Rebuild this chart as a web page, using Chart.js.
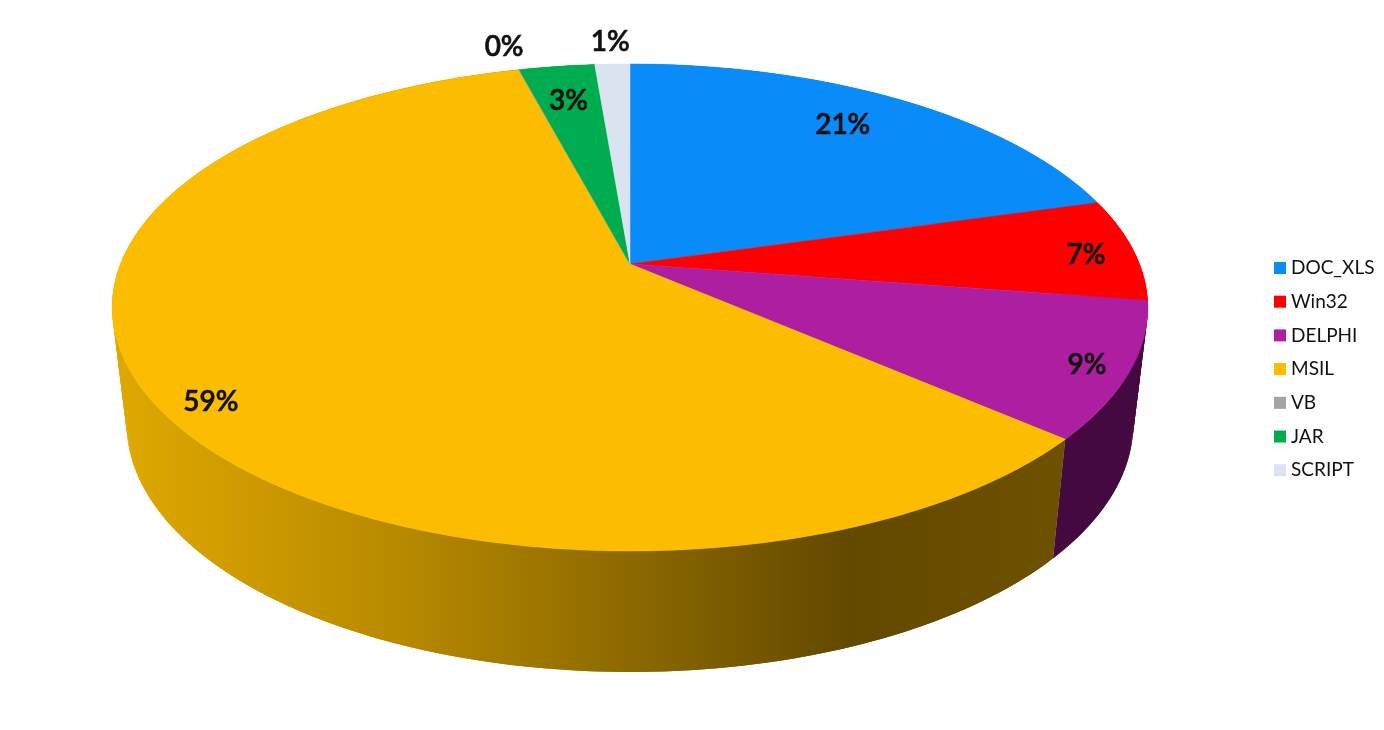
<!doctype html>
<html>

<head>
	<title>3D Pie Chart</title>
	<script src="https://cdn.jsdelivr.net/npm/chart.js@4/dist/chart.umd.js"></script>
	<style>
	html, body { margin: 0; background: #fff; }
	canvas { display: block; }
	</style>
</head>

<body>
	<canvas id="canvas" width="1384" height="730"></canvas>
	<script>
		const categories = ['DOC_XLS', 'Win32', 'DELPHI', 'MSIL', 'VB', 'JAR', 'SCRIPT'];
		const shares = [20.6, 6.8, 9.0, 59.47, 0.03, 2.8, 1.3];
		const colors = ['#0a8bfa', '#ff0000', '#ae1ea0', '#fcbc00', '#a5a5a5', '#00ac50', '#dae3f0'];
		const labelRadius = [0.82, 0.905, 0.92, 0.91, 1.16, 0.82, 1.15];
		const labelTurn = [-2.3, 0.3, 0, -3, 0, 0, 0];

		// perspective of the disc
		const apexX = 630, apexY = 264, spreadX = 509.5, spreadY = 235.7, tilt = -0.1786;

		function project(angle, r) {
			const u = r * Math.cos(angle), v = r * Math.sin(angle);
			const w = 1 + tilt * v;
			return { x: apexX + spreadX * u / w, y: apexY + spreadY * v / w };
		}

		function lower(angle) {
			const p = project(angle, 1);
			return { x: apexX + (p.x - apexX) * 0.972, y: p.y + 115 + 6 * Math.sin(angle) };
		}

		function rimSteps(from, to) {
			return Math.max(2, Math.ceil(Math.abs(to - from) * 90));
		}

		function wallFill(ctx, index) {
			if (index === 3) {
				const g = ctx.createLinearGradient(127, 0, 1054, 0);
				g.addColorStop(0, '#dea700');
				g.addColorStop(0.3, '#b78900');
				g.addColorStop(0.78, '#634900');
				g.addColorStop(1, '#6d5100');
				return g;
			}
			if (index === 2) return '#440a40';
			return colors[index];
		}

		const pie3d = {
			id: 'pie3d',
			beforeDatasetsDraw(chart) {
				const ctx = chart.ctx;
				const arcs = chart.getDatasetMeta(0).data;
				ctx.save();
				ctx.lineWidth = 0.5;
				// side wall first, the top face then hides the back part
				arcs.forEach((arc, i) => {
					ctx.fillStyle = wallFill(ctx, i);
					const steps = rimSteps(arc.startAngle, arc.endAngle);
					const da = (arc.endAngle - arc.startAngle) / steps;
					for (let s = 0; s < steps; s++) {
						const a = arc.startAngle + s * da;
						// quads overlap their neighbour, otherwise the seams show
						const b = s === steps - 1 ? a + da : a + da * 2;
						const p1 = project(a, 1), p2 = project(b, 1);
						const q1 = lower(a), q2 = lower(b);
						ctx.beginPath();
						ctx.moveTo(p1.x, p1.y);
						ctx.lineTo(p2.x, p2.y);
						ctx.lineTo(q2.x, q2.y);
						ctx.lineTo(q1.x, q1.y);
						ctx.closePath();
						ctx.fill();
					}
				});
				arcs.forEach((arc, i) => {
					const steps = rimSteps(arc.startAngle, arc.endAngle);
					ctx.beginPath();
					ctx.moveTo(apexX, apexY);
					for (let s = 0; s <= steps; s++) {
						const p = project(arc.startAngle + (arc.endAngle - arc.startAngle) * s / steps, 1);
						ctx.lineTo(p.x, p.y);
					}
					ctx.closePath();
					ctx.fillStyle = colors[i];
					ctx.strokeStyle = colors[i];
					ctx.fill();
					ctx.stroke();
				});
				ctx.restore();
				return false;
			},
			afterDraw(chart) {
				const ctx = chart.ctx;
				const arcs = chart.getDatasetMeta(0).data;
				ctx.save();
				ctx.fillStyle = '#111';
				ctx.strokeStyle = '#111';
				ctx.lineWidth = 0.6;
				ctx.textAlign = 'center';
				ctx.textBaseline = 'middle';
				ctx.font = '600 28px Lato';
				arcs.forEach((arc, i) => {
					const mid = (arc.startAngle + arc.endAngle) / 2 + labelTurn[i] * Math.PI / 180;
					const p = project(mid, labelRadius[i]);
					const text = Math.round(shares[i]) + '%';
					ctx.fillText(text, p.x, p.y + 3);
					ctx.strokeText(text, p.x, p.y + 3);
				});
				// legend
				ctx.textAlign = 'left';
				ctx.font = '19px Lato';
				categories.forEach((name, i) => {
					const y = 268 + i * 33.7;
					ctx.fillStyle = colors[i];
					ctx.fillRect(1274, y - 6, 12, 12);
					ctx.fillStyle = '#111';
					ctx.fillText(name, 1291, y);
				});
				ctx.restore();
			}
		};

		window.onload = function() {
			const ctx = document.getElementById('canvas').getContext('2d');
			window.myPie = new Chart(ctx, {
				type: 'pie',
				data: {
					labels: categories,
					datasets: [{ data: shares, backgroundColor: colors, borderWidth: 0 }]
				},
				options: {
					responsive: false,
					animation: false,
					plugins: {
						legend: { display: false },
						tooltip: { enabled: false }
					}
				},
				plugins: [pie3d]
			});
		};
	</script>
</body>

</html>
